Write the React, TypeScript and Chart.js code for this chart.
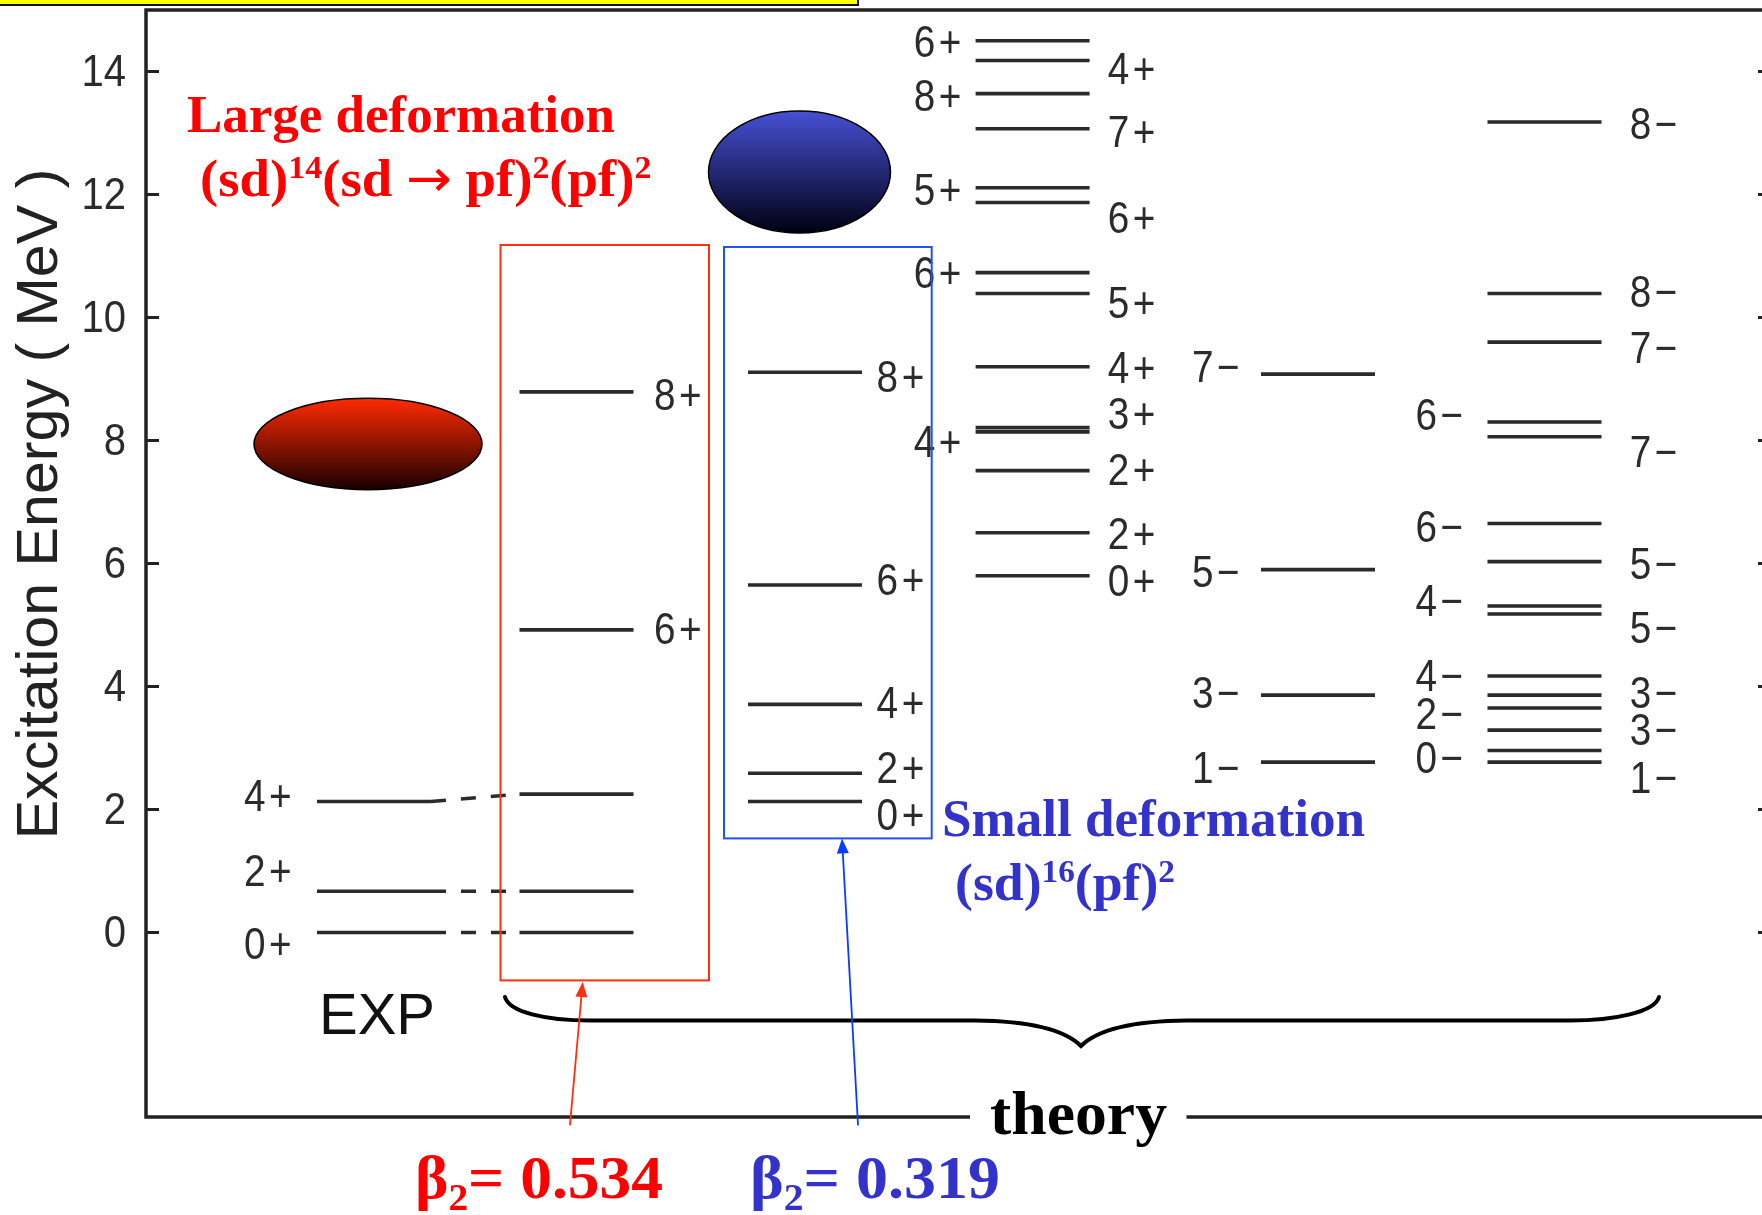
import React, { useEffect, useRef } from "react";
import { Chart, registerables } from "chart.js";

Chart.register(...registerables);

// Level energies (MeV) per column
const expLevels = [0, 0.67, 2.13];
const largeDefLevels = [0, 0.67, 2.25, 4.92, 8.79];
const smallDefLevels = [2.13, 2.59, 3.71, 5.65, 9.11];
const positiveLevels = [5.8, 6.5, 7.51, 8.14, 8.21, 9.2, 10.39, 10.73, 11.87, 12.11, 13.07, 13.64, 14.18, 14.5];
const negativeALevels = [2.77, 3.86, 5.9, 9.08];
const negativeBLevels = [2.77, 2.96, 3.29, 3.65, 3.86, 4.17, 5.18, 5.31, 6.03, 6.65, 8.06, 8.3, 9.6, 10.39, 13.18];

// Spin labels and the energy height at which each one is printed
const expLabels = ["0+", "2+", "4+"];
const expLabelY = [-0.19, 1.01, 2.22];
const largeLabels = ["6+", "8+"];
const largeLabelY = [4.94, 8.74];
const smallLabels = ["0+", "2+", "4+", "6+", "8+"];
const smallLabelY = [1.91, 2.67, 3.74, 5.73, 9.03];
const posLeftLabels = ["4+", "6+", "5+", "8+", "6+"];
const posLeftLabelY = [7.98, 10.72, 12.07, 13.6, 14.48];
const posRightLabels = ["0+", "2+", "2+", "3+", "4+", "5+", "6+", "7+", "4+"];
const posRightLabelY = [5.72, 6.49, 7.52, 8.43, 9.18, 10.24, 11.62, 13.02, 14.05];
const negALabels = ["1−", "3−", "5−", "7−"];
const negALabelY = [2.67, 3.9, 5.87, 9.19];
const negBLeftLabels = ["0−", "2−", "4−", "4−", "6−", "6−"];
const negBLeftLabelY = [2.84, 3.56, 4.17, 5.4, 6.6, 8.42];
const negBRightLabels = ["1−", "3−", "3−", "5−", "5−", "7−", "7−", "8−", "8−"];
const negBRightLabelY = [2.52, 3.29, 3.9, 4.95, 5.99, 7.81, 9.51, 10.41, 13.15];

const yTicks = [0, 2, 4, 6, 8, 10, 12, 14];

const SANS = '"Liberation Sans", Arial, sans-serif';
const SERIF = '"Liberation Serif", "Times New Roman", serif';
const INK = "#2b2b2b";
const RED = "#ff0000";
const BLUE = "#3333cc";
const W = 1771;
const H = 1215;

// Left edge of each column on the horizontal scale, and level width
const colLeft = { exp: 171, large: 373.5, small: 602, pos: 829.6, negA: 1115, negB: 1341.5 };
const LEVEL_W = 114;

function levelData(left: number, levels: number[]) {
  const out: any[] = [];
  levels.forEach((e) => {
    out.push({ x: left, y: e }, { x: left + LEVEL_W, y: e }, { x: left + LEVEL_W, y: null });
  });
  return out;
}

function levelSet(left: number, levels: number[]) {
  return {
    data: levelData(left, levels),
    borderColor: INK,
    borderWidth: 3.6,
    pointRadius: 0,
    borderCapStyle: "butt",
    spanGaps: false,
    tension: 0,
  };
}

type Run = { t: string; mode?: "sup" | "sub"; font?: string };

function drawRuns(ctx: any, runs: Run[], x0: number, x1: number, base: number, size: number, color: string) {
  ctx.save();
  ctx.fillStyle = color;
  ctx.textAlign = "left";
  ctx.textBaseline = "alphabetic";
  const fontFor = (r: Run) => r.font ?? `bold ${r.mode ? size * 0.62 : size}px ${SERIF}`;
  let total = 0;
  runs.forEach((r) => {
    ctx.font = fontFor(r);
    total += ctx.measureText(r.t).width;
  });
  const k = (x1 - x0) / total;
  ctx.translate(x0, base);
  ctx.scale(k, 1);
  let x = 0;
  runs.forEach((r) => {
    ctx.font = fontFor(r);
    const dy = r.mode === "sup" ? -size * 0.34 : r.mode === "sub" ? size * 0.2 : 0;
    ctx.fillText(r.t, x, dy);
    x += ctx.measureText(r.t).width;
  });
  ctx.restore();
}

function ellipse(ctx: any, cx: number, cy: number, rx: number, ry: number, top: string, bottom: string) {
  const g = ctx.createLinearGradient(0, cy - ry, 0, cy + ry);
  g.addColorStop(0, top);
  g.addColorStop(1, bottom);
  ctx.beginPath();
  ctx.ellipse(cx, cy, rx, ry, 0, 0, Math.PI * 2);
  ctx.fillStyle = g;
  ctx.fill();
  ctx.lineWidth = 1.5;
  ctx.strokeStyle = "#000";
  ctx.stroke();
}

function arrow(ctx: any, x0: number, y0: number, x1: number, y1: number, color: string) {
  const a = Math.atan2(y1 - y0, x1 - x0);
  const len = 15;
  const hw = 6;
  const bx = x1 - len * Math.cos(a);
  const by = y1 - len * Math.sin(a);
  ctx.strokeStyle = color;
  ctx.fillStyle = color;
  ctx.lineWidth = 1.8;
  ctx.beginPath();
  ctx.moveTo(x0, y0);
  ctx.lineTo(bx, by);
  ctx.stroke();
  ctx.beginPath();
  ctx.moveTo(x1, y1);
  ctx.lineTo(bx - hw * Math.sin(a), by + hw * Math.cos(a));
  ctx.lineTo(bx + hw * Math.sin(a), by - hw * Math.cos(a));
  ctx.closePath();
  ctx.fill();
}

const framePlugin = {
  id: "frame",
  beforeDatasetsDraw(chart: any) {
    const { ctx, chartArea: a, scales } = chart;
    ctx.save();
    ctx.strokeStyle = "#222";
    ctx.lineWidth = 3.5;
    ctx.strokeRect(a.left, a.top, a.right - a.left, a.bottom - a.top);
    ctx.lineWidth = 3;
    yTicks.forEach((v) => {
      const y = scales.y.getPixelForValue(v);
      ctx.beginPath();
      ctx.moveTo(a.left, y);
      ctx.lineTo(a.left + 13, y);
      ctx.moveTo(a.right, y);
      ctx.lineTo(a.right - 13, y);
      ctx.stroke();
      // tick label, tall and slightly narrow like the scanned figure
      ctx.save();
      ctx.translate(a.left - 20, y + 2);
      ctx.scale(0.89, 1);
      ctx.font = `45px ${SANS}`;
      ctx.fillStyle = INK;
      ctx.textAlign = "right";
      ctx.textBaseline = "middle";
      ctx.fillText(String(v), 0, 0);
      ctx.restore();
    });
    ctx.restore();
  },
};

function spinLabels(chart: any, texts: string[], ys: number[], xValue: number) {
  const { ctx, scales } = chart;
  const px = scales.x.getPixelForValue(xValue);
  ctx.font = `44px ${SANS}`;
  ctx.fillStyle = INK;
  ctx.textAlign = "left";
  ctx.textBaseline = "middle";
  ctx.letterSpacing = "4px";
  texts.forEach((t, i) => {
    ctx.save();
    ctx.translate(px, scales.y.getPixelForValue(ys[i]) + 3);
    ctx.scale(0.88, 1);
    ctx.fillText(t, 0, 0);
    ctx.restore();
  });
  ctx.letterSpacing = "0px";
}

const overlayPlugin = {
  id: "overlay",
  afterDatasetsDraw(chart: any) {
    const { ctx, chartArea: a } = chart;
    // yellow banner clipped by the top of the page
    ctx.save();
    ctx.fillStyle = "#ffff00";
    ctx.fillRect(0, 0, 857, 4);
    ctx.fillStyle = "#111";
    ctx.fillRect(0, 4, 859, 2);
    ctx.fillRect(857, 0, 2, 6);

    // y title
    ctx.save();
    ctx.translate(41, 504);
    ctx.rotate(-Math.PI / 2);
    ctx.scale(1.02, 1);
    ctx.font = `58px ${SANS}`;
    ctx.fillStyle = "#222";
    ctx.textAlign = "center";
    ctx.textBaseline = "middle";
    ctx.fillText("Excitation Energy ( MeV )", 0, 0);
    ctx.restore();

    // spin labels
    spinLabels(chart, expLabels, expLabelY, 98);
    spinLabels(chart, largeLabels, largeLabelY, 508);
    spinLabels(chart, smallLabels, smallLabelY, 730.6);
    spinLabels(chart, posLeftLabels, posLeftLabelY, 767.7);
    spinLabels(chart, posRightLabels, posRightLabelY, 961.8);
    spinLabels(chart, negALabels, negALabelY, 1046);
    spinLabels(chart, negBLeftLabels, negBLeftLabelY, 1269.4);
    spinLabels(chart, negBRightLabels, negBRightLabelY, 1483.7);

    // EXP
    ctx.font = `58px ${SANS}`;
    ctx.fillStyle = "#111";
    ctx.textAlign = "left";
    ctx.textBaseline = "alphabetic";
    ctx.fillText("EXP", 319, 1034);

    // config boxes
    ctx.lineWidth = 2;
    ctx.strokeStyle = "#ff3010";
    ctx.strokeRect(500.5, 245, 208.5, 735.4);
    ctx.strokeStyle = "#2050ff";
    ctx.strokeRect(724, 247, 207.7, 591.4);

    // shapes
    ellipse(ctx, 368, 444, 114, 45.7, "#ff2a00", "#180000");
    ellipse(ctx, 799.5, 172, 91, 61, "#4650d4", "#000012");

    // brace
    ctx.strokeStyle = "#000";
    ctx.lineWidth = 4;
    ctx.lineCap = "round";
    ctx.beginPath();
    ctx.moveTo(505, 997);
    ctx.bezierCurveTo(509, 1012, 545, 1020.5, 590, 1020.5);
    ctx.lineTo(975, 1020.5);
    ctx.bezierCurveTo(1030, 1021, 1065, 1030, 1081, 1046);
    ctx.bezierCurveTo(1097, 1030, 1132, 1021, 1187, 1020.5);
    ctx.lineTo(1570, 1020.5);
    ctx.bezierCurveTo(1615, 1020.5, 1655, 1012, 1659, 997);
    ctx.stroke();

    // gap in the lower axis for the word "theory"
    ctx.fillStyle = "#fff";
    ctx.fillRect(970, a.bottom - 6, 216.5, 12);

    // arrows
    arrow(ctx, 570, 1124.7, 582.7, 982, "#ff3010");
    arrow(ctx, 858, 1124.7, 842, 838.4, "#0a3cff");

    // texts
    const ARROW_FONT = '52px "DejaVu Sans", sans-serif';
    drawRuns(ctx, [{ t: "Large deformation" }], 187, 615, 132, 52, RED);
    drawRuns(
      ctx,
      [
        { t: "(sd)" },
        { t: "14", mode: "sup" },
        { t: "(sd " },
        { t: "→", font: ARROW_FONT },
        { t: " pf)" },
        { t: "2", mode: "sup" },
        { t: "(pf)" },
        { t: "2", mode: "sup" },
      ],
      200,
      651.5,
      196,
      52,
      RED
    );
    drawRuns(ctx, [{ t: "Small deformation" }], 942, 1365, 836, 52, BLUE);
    drawRuns(
      ctx,
      [{ t: "(sd)" }, { t: "16", mode: "sup" }, { t: "(pf)" }, { t: "2", mode: "sup" }],
      955,
      1175,
      900,
      52,
      BLUE
    );
    drawRuns(ctx, [{ t: "theory" }], 990, 1167, 1134, 61, "#000");
    drawRuns(ctx, [{ t: "β" }, { t: "2", mode: "sub" }, { t: "= 0.534" }], 415, 663, 1198, 61, RED);
    drawRuns(ctx, [{ t: "β" }, { t: "2", mode: "sub" }, { t: "= 0.319" }], 750, 1000, 1198, 61, BLUE);
    ctx.restore();
  },
};

export default function App() {
  const ref = useRef<HTMLCanvasElement>(null);
  useEffect(() => {
    if (!ref.current) return;
    const connectors: any[] = [];
    expLevels.forEach((e, i) => {
      connectors.push(
        { x: colLeft.exp + LEVEL_W, y: e },
        { x: colLeft.large, y: largeDefLevels[i] },
        { x: colLeft.large, y: null }
      );
    });
    const chart = new Chart(ref.current, {
      type: "line",
      data: {
        datasets: [
          levelSet(colLeft.exp, expLevels),
          levelSet(colLeft.large, largeDefLevels),
          levelSet(colLeft.small, smallDefLevels),
          levelSet(colLeft.pos, positiveLevels),
          levelSet(colLeft.negA, negativeALevels),
          levelSet(colLeft.negB, negativeBLevels),
          {
            data: connectors,
            borderColor: INK,
            borderWidth: 3.6,
            borderDash: [15, 15],
            borderDashOffset: 0,
            pointRadius: 0,
            spanGaps: false,
            tension: 0,
          },
        ] as any,
      },
      options: {
        animation: false,
        responsive: false,
        devicePixelRatio: 1,
        layout: { padding: { top: 10, bottom: 98, left: 0, right: 0 } },
        plugins: { legend: { display: false }, tooltip: { enabled: false } },
        scales: {
          x: { type: "linear", min: 0, max: 1625, display: false, grid: { display: false } },
          y: {
            type: "linear",
            min: -3,
            max: 15,
            grid: { display: false, drawTicks: false },
            border: { display: false },
            afterBuildTicks: (s: any) => {
              s.ticks = yTicks.map((v) => ({ value: v }));
            },
            afterFit: (s: any) => {
              s.width = 146;
              s.paddingTop = 0;
              s.paddingBottom = 0;
            },
            ticks: { display: false },
          },
        },
      } as any,
      plugins: [framePlugin, overlayPlugin],
    });
    return () => chart.destroy();
  }, []);
  return (
    <div
      style={{
        position: "absolute",
        left: 0,
        top: 0,
        width: 1762,
        height: 1215,
        overflow: "hidden",
        background: "#fff",
      }}
    >
      <canvas
        ref={ref}
        width={W}
        height={H}
        style={{ display: "block", width: W, height: H, filter: "blur(0.45px)" }}
      />
    </div>
  );
}
